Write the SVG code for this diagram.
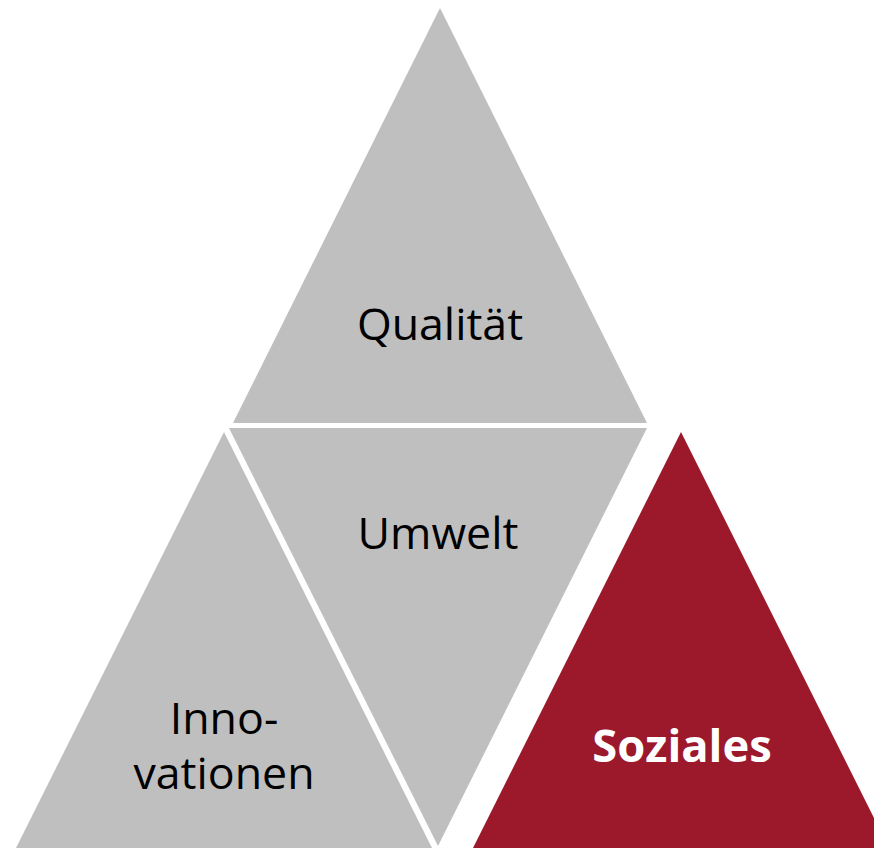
<svg xmlns="http://www.w3.org/2000/svg" width="874" height="848" viewBox="0 0 874 848">
<style>
.g{fill:#BFBFBF}
.r{fill:#9C192C}
.t{font-family:"Open Sans","Noto Sans",sans-serif;font-size:44.7px;fill:#000;text-anchor:middle}
.w{font-family:"Open Sans","Noto Sans",sans-serif;font-size:45.3px;font-weight:bold;fill:#fff;text-anchor:middle}
</style>
<rect width="874" height="848" fill="#fff"/>
<g id="qualitaet">
<polygon class="g" points="440,8 647,423 233,423"/>
<text class="t" x="440" y="340">Qualität</text>
</g>
<g id="umwelt">
<polygon class="g" points="229,428 647,428 438,846"/>
<text class="t" x="438" y="549">Umwelt</text>
</g>
<g id="innovationen">
<polygon class="g" points="224,432 432,848 16,848"/>
<text class="t" x="224" y="734">Inno-</text>
<text class="t" x="224" y="789">vationen</text>
</g>
<g id="soziales">
<polygon class="r" points="681,432 889,848 473,848"/>
<text class="w" x="682" y="762">Soziales</text>
</g>
<g id="connectors"/>
</svg>
